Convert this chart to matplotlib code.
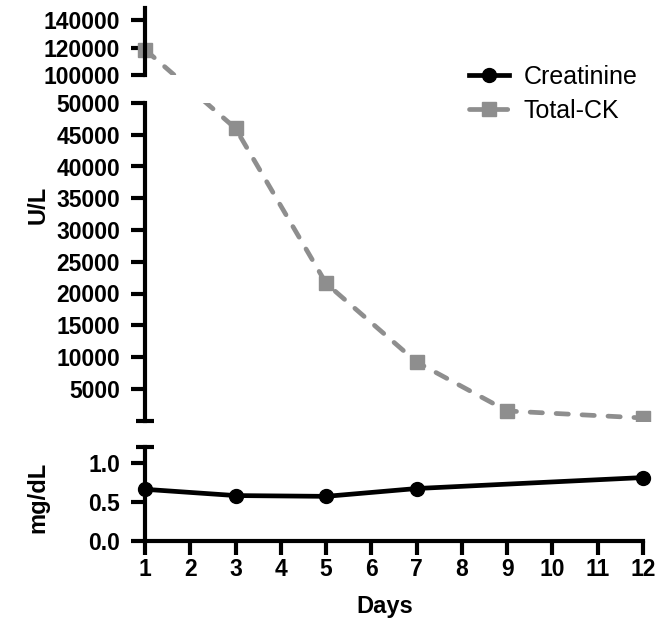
import numpy as np
import matplotlib.pyplot as plt

plt.rcParams["font.family"] = ["Liberation Sans", "DejaVu Sans"]

# ── Data ─────────────────────────────────────────────────────────────────────
days_crea = [1, 3, 5, 7, 12]
creatinine = [0.66, 0.58, 0.57, 0.67, 0.81]          # mg/dL
days_ck = [1, 3, 5, 7, 9, 12]
total_ck = [118500, 46000, 21600, 9200, 1500, 400]  # U/L

x_ticks = list(range(1, 13))
ck_low_ticks = list(range(5000, 50001, 5000))
ck_high_ticks = [100000, 120000, 140000]
crea_ticks = [0.0, 0.5, 1.0]

# ── Broken y-scale (GraphPad style) ──────────────────────────────────────────
LOW_TOP = 50000
HIGH_BOT = 100000
GAP = 4409       # size of the break in low-segment units
R = 0.2165       # compression of the upper segment


def fwd(y):
    y = np.asarray(y, float)
    mid = LOW_TOP + (y - LOW_TOP) * GAP / (HIGH_BOT - LOW_TOP)
    hi = LOW_TOP + GAP + (y - HIGH_BOT) * R
    return np.where(y <= LOW_TOP, y, np.where(y >= HIGH_BOT, hi, mid))


def inv(t):
    t = np.asarray(t, float)
    mid = LOW_TOP + (t - LOW_TOP) * (HIGH_BOT - LOW_TOP) / GAP
    hi = HIGH_BOT + (t - LOW_TOP - GAP) / R
    return np.where(t <= LOW_TOP, t, np.where(t >= LOW_TOP + GAP, hi, mid))


# ── Layout (pixels) ──────────────────────────────────────────────────────────
W, H, DPI = 665, 624, 100
X0_PX, X1_PX = 145, 643              # day 1 / day 12
PX_DAY = (X1_PX - X0_PX) / 11
MID_BOT_PX, MID_TOP_PX = 420.5, 103
PX_T = (MID_BOT_PX - MID_TOP_PX) / LOW_TOP
TOP_YMAX = 148700
top_h_px = (fwd(TOP_YMAX) - fwd(HIGH_BOT)) * PX_T
top_bot_px = MID_TOP_PX - GAP * PX_T
BOT_BOT_PX, BOT_TOP_PX = 541, 447

XPAD = 0.4
wide_left = (X0_PX - XPAD * PX_DAY) / W
wide_w = (11 + 2 * XPAD) * PX_DAY / W

fig = plt.figure(figsize=(W / DPI, H / DPI), dpi=DPI)
ax_top = fig.add_axes([wide_left, 1 - top_bot_px / H, wide_w, top_h_px / H])
ax_mid = fig.add_axes([wide_left, 1 - MID_BOT_PX / H, wide_w,
                       (MID_BOT_PX - MID_TOP_PX) / H])
ax_bot = fig.add_axes([X0_PX / W, 1 - BOT_BOT_PX / H, (X1_PX - X0_PX) / W,
                       (BOT_BOT_PX - BOT_TOP_PX) / H])

GRAY = "#8e8e8e"
LW = 3.4
TICK_KW = dict(width=3, length=10, labelsize=16.5, pad=8)

for ax in (ax_top, ax_mid, ax_bot):
    for s in ("top", "right"):
        ax.spines[s].set_visible(False)
    for s in ("left", "bottom"):
        ax.spines[s].set_linewidth(3)
    ax.tick_params(which="major", direction="out", **TICK_KW)
    ax.tick_params(which="minor", direction="inout", width=3, length=13)

# CK on top + middle axes
for ax in (ax_top, ax_mid):
    ax.set_yscale("function", functions=(fwd, inv))
    ax.set_xlim(1 - XPAD, 12 + XPAD)
    ax.spines["bottom"].set_visible(False)
    ax.spines["left"].set_position(("data", 1))
    ax.set_xticks([])
    ax.plot(days_ck, total_ck, color=GRAY, lw=LW, dashes=(2.6, 2.9),
            dash_capstyle="round", marker="s", ms=9.5, mec=GRAY, mfc=GRAY,
            label="Total-CK")

ax_top.set_ylim(HIGH_BOT, TOP_YMAX)
ax_top.spines["left"].set_bounds(HIGH_BOT, TOP_YMAX)
ax_top.set_yticks(ck_high_ticks, [str(v) for v in ck_high_ticks])
ax_top.set_yticks([HIGH_BOT], minor=True)

ax_mid.set_ylim(0, LOW_TOP)
ax_mid.spines["left"].set_bounds(0, LOW_TOP)
ax_mid.set_yticks(ck_low_ticks, [str(v) for v in ck_low_ticks])
ax_mid.set_yticks([0, LOW_TOP], minor=True)

# Creatinine on bottom axis
ax_bot.plot(days_crea, creatinine, color="black", lw=LW, marker="o", ms=10,
            clip_on=False, zorder=5, label="Creatinine")
ax_bot.set_xlim(1, 12)
ax_bot.set_ylim(0, 1.2)
ax_bot.set_xticks(x_ticks)
ax_bot.set_yticks(crea_ticks, [f"{v:.1f}" for v in crea_ticks])
ax_bot.set_yticks([1.2], minor=True)
ax_bot.tick_params(axis="x", pad=2)

for ax in (ax_top, ax_mid, ax_bot):
    for lab in ax.get_xticklabels() + ax.get_yticklabels():
        lab.set_fontweight("bold")

# Axis titles
fig.text(38 / W, 1 - 205 / H, "U/L", rotation=90, ha="center", va="center",
         fontsize=17, fontweight="bold")
fig.text(38 / W, 1 - 497 / H, "mg/dL", rotation=90, ha="center", va="center",
         fontsize=17, fontweight="bold")
fig.text(385 / W, 1 - 607 / H, "Days", ha="center", va="center",
         fontsize=17, fontweight="bold")

# Legend
h_crea = ax_bot.get_lines()[0]
h_ck = ax_mid.get_lines()[0]
fig.legend([h_crea, h_ck], ["Creatinine", "Total-CK"], loc="upper left",
           bbox_to_anchor=(446 / W, 1 - 42 / H), frameon=False, fontsize=18,
           handlelength=1.6, handletextpad=0.6, labelspacing=0.4)

plt.savefig("out.png", dpi=DPI)
